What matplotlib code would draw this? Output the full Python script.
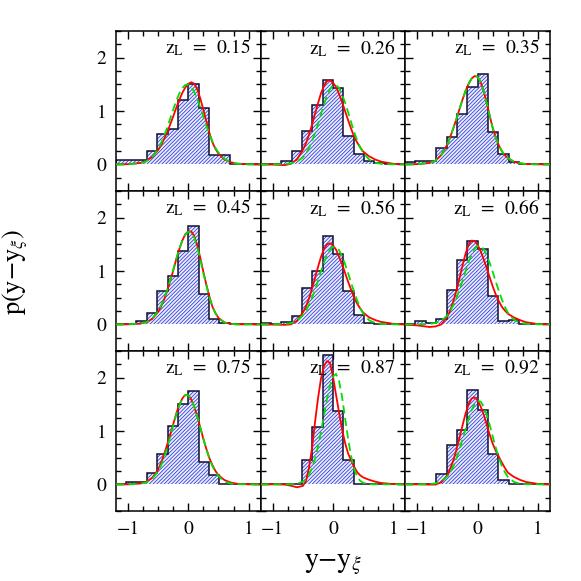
import numpy as np
import matplotlib
matplotlib.use("Agg")
import matplotlib.pyplot as plt
from matplotlib.ticker import MultipleLocator

# ---------------- data ----------------
Z_LABELS = ["0.15", "0.26", "0.35", "0.45", "0.56", "0.66", "0.75", "0.87", "0.92"]

# histogram bin edges (y - y_xi)
BIN_EDGES = [-1.376, -1.204, -1.032, -0.860, -0.688, -0.516, -0.344, -0.172,
             0.0, 0.172, 0.344, 0.516, 0.688, 0.860, 1.032, 1.204]

H1 = [0, 0.09, 0.09, 0.09, 0.25, 0.575, 0.66, 1.20, 1.50, 1.05, 0.175, 0.175, 0, 0, 0]
H2 = [0, 0, 0, 0.06, 0.25, 0.625, 1.11, 1.59, 1.44, 0.53, 0.20, 0.06, 0.025, 0, 0]
H3 = [0, 0.04, 0.06, 0.06, 0.31, 0.51, 0.95, 1.45, 1.69, 0.61, 0.19, 0.05, 0, 0, 0]
H4 = [0, 0, 0, 0.06, 0.22, 0.62, 0.90, 1.37, 1.84, 0.56, 0.10, 0.025, 0, 0, 0]
H5 = [0, 0.025, 0.01, 0.04, 0.16, 0.68, 1.00, 1.65, 1.31, 0.62, 0.18, 0.025, 0, 0, 0]
H6 = [0, 0, 0.056, 0.025, 0.10, 0.64, 1.20, 1.57, 1.42, 0.54, 0.056, 0.09, 0, 0, 0]
H7 = [0, 0, 0.044, 0.044, 0.22, 0.575, 1.09, 1.51, 1.75, 0.41, 0.17, 0, 0, 0, 0]
H8 = [0, 0, 0, 0, 0, 0.46, 1.08, 2.42, 1.38, 0.46, 0, 0, 0, 0, 0]
H9 = [0, 0, 0, 0, 0.19, 0.74, 1.02, 1.77, 1.39, 0.56, 0.09, 0, 0, 0, 0]

# model curves sampled at X
X = [-1.2, -1.0, -0.8, -0.7, -0.6, -0.5, -0.45, -0.4, -0.35, -0.3, -0.25, -0.2,
     -0.15, -0.1, -0.05, 0.0, 0.05, 0.1, 0.15, 0.2, 0.25, 0.3, 0.35, 0.4, 0.45,
     0.5, 0.6, 0.7, 0.8, 1.0, 1.2]

R1 = [0, 0.003, 0.025, 0.063, 0.137, 0.27, 0.36, 0.48, 0.60, 0.75, 0.90, 1.06, 1.21, 1.34, 1.44, 1.51,
      1.54, 1.51, 1.40, 1.23, 1.02, 0.80, 0.59, 0.41, 0.29, 0.20, 0.09, 0.04, 0.015, 0, 0]
G1 = [0, 0, 0.02, 0.055, 0.136, 0.29, 0.40, 0.54, 0.69, 0.86, 1.03, 1.19, 1.33, 1.43, 1.49, 1.50,
      1.45, 1.35, 1.22, 1.06, 0.89, 0.72, 0.56, 0.43, 0.31, 0.22, 0.10, 0.04, 0.01, 0, 0]

R2 = [0, -0.005, -0.015, 0.01, 0.09, 0.27, 0.39, 0.55, 0.735, 0.94, 1.14, 1.33, 1.47, 1.56, 1.575, 1.53,
      1.45, 1.32, 1.17, 1.00, 0.83, 0.67, 0.52, 0.41, 0.32, 0.24, 0.15, 0.09, 0.05, 0.01, 0]
G2 = [0, 0, 0.004, 0.015, 0.048, 0.13, 0.20, 0.30, 0.43, 0.58, 0.75, 0.94, 1.12, 1.29, 1.41, 1.48,
      1.49, 1.43, 1.31, 1.16, 0.98, 0.79, 0.61, 0.45, 0.32, 0.22, 0.09, 0.03, 0.01, 0, 0]

R3 = [0, 0.004, 0.025, 0.07, 0.18, 0.38, 0.53, 0.69, 0.86, 1.04, 1.22, 1.38, 1.51, 1.61, 1.655, 1.64,
      1.54, 1.37, 1.15, 0.91, 0.68, 0.50, 0.36, 0.25, 0.17, 0.12, 0.05, 0.02, 0.005, 0, 0]
G3 = [0, 0.004, 0.025, 0.07, 0.18, 0.38, 0.53, 0.69, 0.86, 1.04, 1.22, 1.38, 1.51, 1.61, 1.655, 1.64,
      1.54, 1.37, 1.15, 0.91, 0.68, 0.50, 0.36, 0.25, 0.17, 0.12, 0.05, 0.02, 0.005, 0, 0]

R4 = [0, 0, 0.012, 0.038, 0.10, 0.235, 0.34, 0.47, 0.63, 0.82, 1.01, 1.22, 1.41, 1.57, 1.69, 1.745,
      1.74, 1.65, 1.47, 1.24, 0.98, 0.74, 0.52, 0.33, 0.21, 0.12, 0.035, 0.01, 0, 0, 0]
G4 = [0, 0, 0.014, 0.042, 0.11, 0.25, 0.36, 0.49, 0.65, 0.83, 1.03, 1.23, 1.42, 1.57, 1.68, 1.735,
      1.72, 1.62, 1.44, 1.21, 0.955, 0.72, 0.51, 0.33, 0.21, 0.12, 0.035, 0.01, 0, 0, 0]

R5 = [0, -0.005, -0.01, 0.0, 0.065, 0.22, 0.33, 0.48, 0.66, 0.86, 1.07, 1.26, 1.41, 1.50, 1.52, 1.48,
      1.40, 1.27, 1.13, 0.965, 0.80, 0.65, 0.50, 0.39, 0.30, 0.22, 0.13, 0.08, 0.045, 0.01, 0]
G5 = [0, 0, 0.007, 0.023, 0.067, 0.17, 0.25, 0.36, 0.49, 0.64, 0.81, 0.99, 1.16, 1.30, 1.40, 1.455,
      1.45, 1.39, 1.28, 1.13, 0.96, 0.78, 0.61, 0.45, 0.31, 0.20, 0.075, 0.025, 0.008, 0, 0]

R6 = [-0.005, -0.02, -0.05, -0.04, 0.0, 0.15, 0.27, 0.45, 0.645, 0.87, 1.11, 1.33, 1.49, 1.57, 1.56, 1.49,
      1.37, 1.22, 1.05, 0.88, 0.71, 0.56, 0.44, 0.33, 0.26, 0.20, 0.13, 0.08, 0.04, 0.005, 0]
G6 = [0, 0, 0.008, 0.025, 0.07, 0.17, 0.26, 0.37, 0.50, 0.65, 0.82, 1.00, 1.17, 1.31, 1.42, 1.47,
      1.47, 1.41, 1.30, 1.15, 0.98, 0.80, 0.63, 0.47, 0.33, 0.22, 0.085, 0.03, 0.01, 0, 0]

R7 = [0, 0, 0.015, 0.045, 0.12, 0.28, 0.41, 0.57, 0.75, 0.93, 1.13, 1.33, 1.49, 1.61, 1.675, 1.67,
      1.59, 1.45, 1.27, 1.06, 0.85, 0.66, 0.49, 0.36, 0.25, 0.17, 0.08, 0.035, 0.012, 0, 0]
G7 = [0, 0, 0.01, 0.034, 0.10, 0.25, 0.36, 0.51, 0.69, 0.89, 1.10, 1.31, 1.48, 1.61, 1.675, 1.67,
      1.59, 1.45, 1.27, 1.06, 0.85, 0.65, 0.48, 0.34, 0.23, 0.15, 0.054, 0.015, 0.004, 0, 0]

R8 = [0, 0, -0.005, -0.025, -0.055, -0.03, 0.06, 0.30, 0.66, 1.15, 1.60, 1.98, 2.22, 2.31, 2.28, 2.02,
      1.68, 1.35, 1.03, 0.78, 0.58, 0.45, 0.33, 0.23, 0.17, 0.13, 0.085, 0.05, 0.025, 0.005, 0]
G8 = [0, 0, 0, 0.002, 0.012, 0.051, 0.098, 0.176, 0.30, 0.47, 0.70, 0.98, 1.29, 1.60, 1.85, 2.02,
      2.07, 1.94, 1.64, 1.25, 0.86, 0.53, 0.29, 0.15, 0.067, 0.028, 0.003, 0, 0, 0, 0]

R9 = [0, 0, -0.005, -0.005, 0.04, 0.17, 0.31, 0.46, 0.66, 0.88, 1.11, 1.33, 1.50, 1.61, 1.63, 1.575,
      1.46, 1.31, 1.12, 0.93, 0.76, 0.63, 0.52, 0.41, 0.31, 0.22, 0.14, 0.085, 0.045, 0.008, 0]
G9 = [0, 0, 0.005, 0.018, 0.058, 0.155, 0.236, 0.345, 0.49, 0.66, 0.85, 1.04, 1.23, 1.39, 1.51, 1.565,
      1.55, 1.46, 1.31, 1.11, 0.895, 0.69, 0.50, 0.345, 0.23, 0.14, 0.047, 0.013, 0.003, 0, 0]

HISTS = [H1, H2, H3, H4, H5, H6, H7, H8, H9]
REDS = [R1, R2, R3, R4, R5, R6, R7, R8, R9]
GREENS = [G1, G2, G3, G4, G5, G6, G7, G8, G9]

# ---------------- style ----------------
plt.rcParams["font.family"] = ["STIXGeneral", "DejaVu Serif"]
plt.rcParams["mathtext.fontset"] = "stix"
plt.rcParams["hatch.linewidth"] = 0.6
HATCH_BLUE = "#3340dc"
plt.rcParams["hatch.color"] = HATCH_BLUE

fig = plt.figure(figsize=(5.81, 5.81), dpi=100)
gs = fig.add_gridspec(3, 3, left=116 / 581, right=550 / 581,
                      top=1 - 31 / 581, bottom=1 - 511 / 581,
                      hspace=0, wspace=0)

edges = np.array(BIN_EDGES)
for i in range(9):
    r, c = divmod(i, 3)
    ax = fig.add_subplot(gs[r, c])
    h = np.array(HISTS[i])
    ax.fill_between(edges, np.r_[h, h[-1]], step="post", facecolor="#eceefd",
                    edgecolor=HATCH_BLUE, hatch="/////////", linewidth=0, zorder=1)
    ax.stairs(h, edges, color="#101030", linewidth=1.1, zorder=2)
    ax.plot(X, REDS[i], color="#ff0000", linewidth=1.3, zorder=3)
    ax.plot(X, GREENS[i], color="#00e000", linewidth=1.3,
            linestyle=(0, (4.5, 2.5)), zorder=4)

    ax.set_xlim(-1.2, 1.2)
    ax.set_ylim(-0.5, 2.5)
    ax.xaxis.set_major_locator(MultipleLocator(1))
    ax.xaxis.set_minor_locator(MultipleLocator(0.25))
    ax.yaxis.set_major_locator(MultipleLocator(1))
    ax.yaxis.set_minor_locator(MultipleLocator(0.25))
    ax.tick_params(which="both", direction="in", top=True, right=True,
                   labelsize=14, width=1.0)
    ax.tick_params(which="major", length=6, pad=7)
    ax.tick_params(which="minor", length=3.5)
    if c != 0:
        ax.tick_params(labelleft=False)
    if r != 2:
        ax.tick_params(labelbottom=False)
    for s in ax.spines.values():
        s.set_linewidth(1.1)

    ax.text(0.93, 0.895, r"$\mathrm{z_L}$  =  " + Z_LABELS[i], transform=ax.transAxes,
            ha="right", va="center", fontsize=14, zorder=5)

fig.text(333 / 581, 1 - 565 / 581, r"$\mathrm{y{-}y}_{\xi}$", ha="center", va="center",
         fontsize=20)
fig.text(16 / 581, 1 - 272 / 581, r"$\mathrm{p(y{-}y}_{\xi}\mathrm{)}$", ha="center",
         va="center", rotation=90, fontsize=19)

fig.savefig("out.png", dpi=100)
